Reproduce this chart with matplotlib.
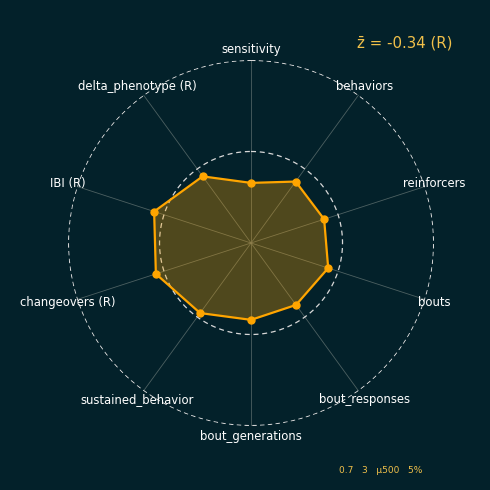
import numpy as np
import matplotlib.pyplot as plt

labels = ["sensitivity", "behaviors", "reinforcers", "bouts", "bout_responses",
          "bout_generations", "sustained_behavior", "changeovers (R)", "IBI (R)",
          "delta_phenotype (R)"]
z_values = [-1.03, -0.51, -0.48, -0.34, -0.49, -0.48, -0.16, 0.28, 0.34, -0.30]
mean_text = "z\u0304 = -0.34 (R)"
footer = "0.7   3   \u00b5500   5%"

bg = "#03212a"
orange = "#ffa500"
gold = "#f0c04a"

fig = plt.figure(figsize=(4.9, 4.9), dpi=100, facecolor=bg)
ax = fig.add_axes([0.1388, 0.1306, 0.747, 0.747], projection="polar")
ax.set_facecolor(bg)
ax.set_theta_zero_location("N")
ax.set_theta_direction(-1)
rmin, rmax = -3, 3
ax.set_ylim(rmin, rmax)

n = len(labels)
angles = np.linspace(0, 2 * np.pi, n, endpoint=False)

# spokes and dashed rings
for a in angles:
    ax.plot([a, a], [rmin, rmax], color="#5f706f", lw=0.6, alpha=0.8, zorder=1)
ring = np.linspace(0, 2 * np.pi, 300)
ax.plot(ring, np.full_like(ring, 0), color="#d8d8d8", lw=0.9, ls=(0, (4, 3)), zorder=2)
ax.plot(ring, np.full_like(ring, rmax * 0.995), color="#d8d8d8", lw=0.8, ls=(0, (4, 3)), zorder=2)

# values
ang_c = np.append(angles, angles[0])
val_c = np.append(z_values, z_values[0])
ax.fill(ang_c, val_c, color=orange, alpha=0.3, lw=0, zorder=3)
ax.plot(ang_c, val_c, color=orange, lw=1.6, zorder=4)
ax.plot(angles, z_values, "o", color=orange, ms=5, zorder=5)

# labels
for a, lab in zip(angles, labels):
    ax.text(a, rmax + 0.33, lab, color="white", fontsize=8.4,
            ha="center", va="center", zorder=6)

ax.set_xticks([])
ax.set_yticks([])
ax.grid(False)
ax.spines["polar"].set_visible(False)

fig.text(0.826, 0.912, mean_text, color=gold, fontsize=10.8, ha="center", va="center")
fig.text(0.776, 0.039, footer, color=gold, fontsize=6.5, ha="center", va="center")

plt.savefig("out.png", facecolor=bg)
